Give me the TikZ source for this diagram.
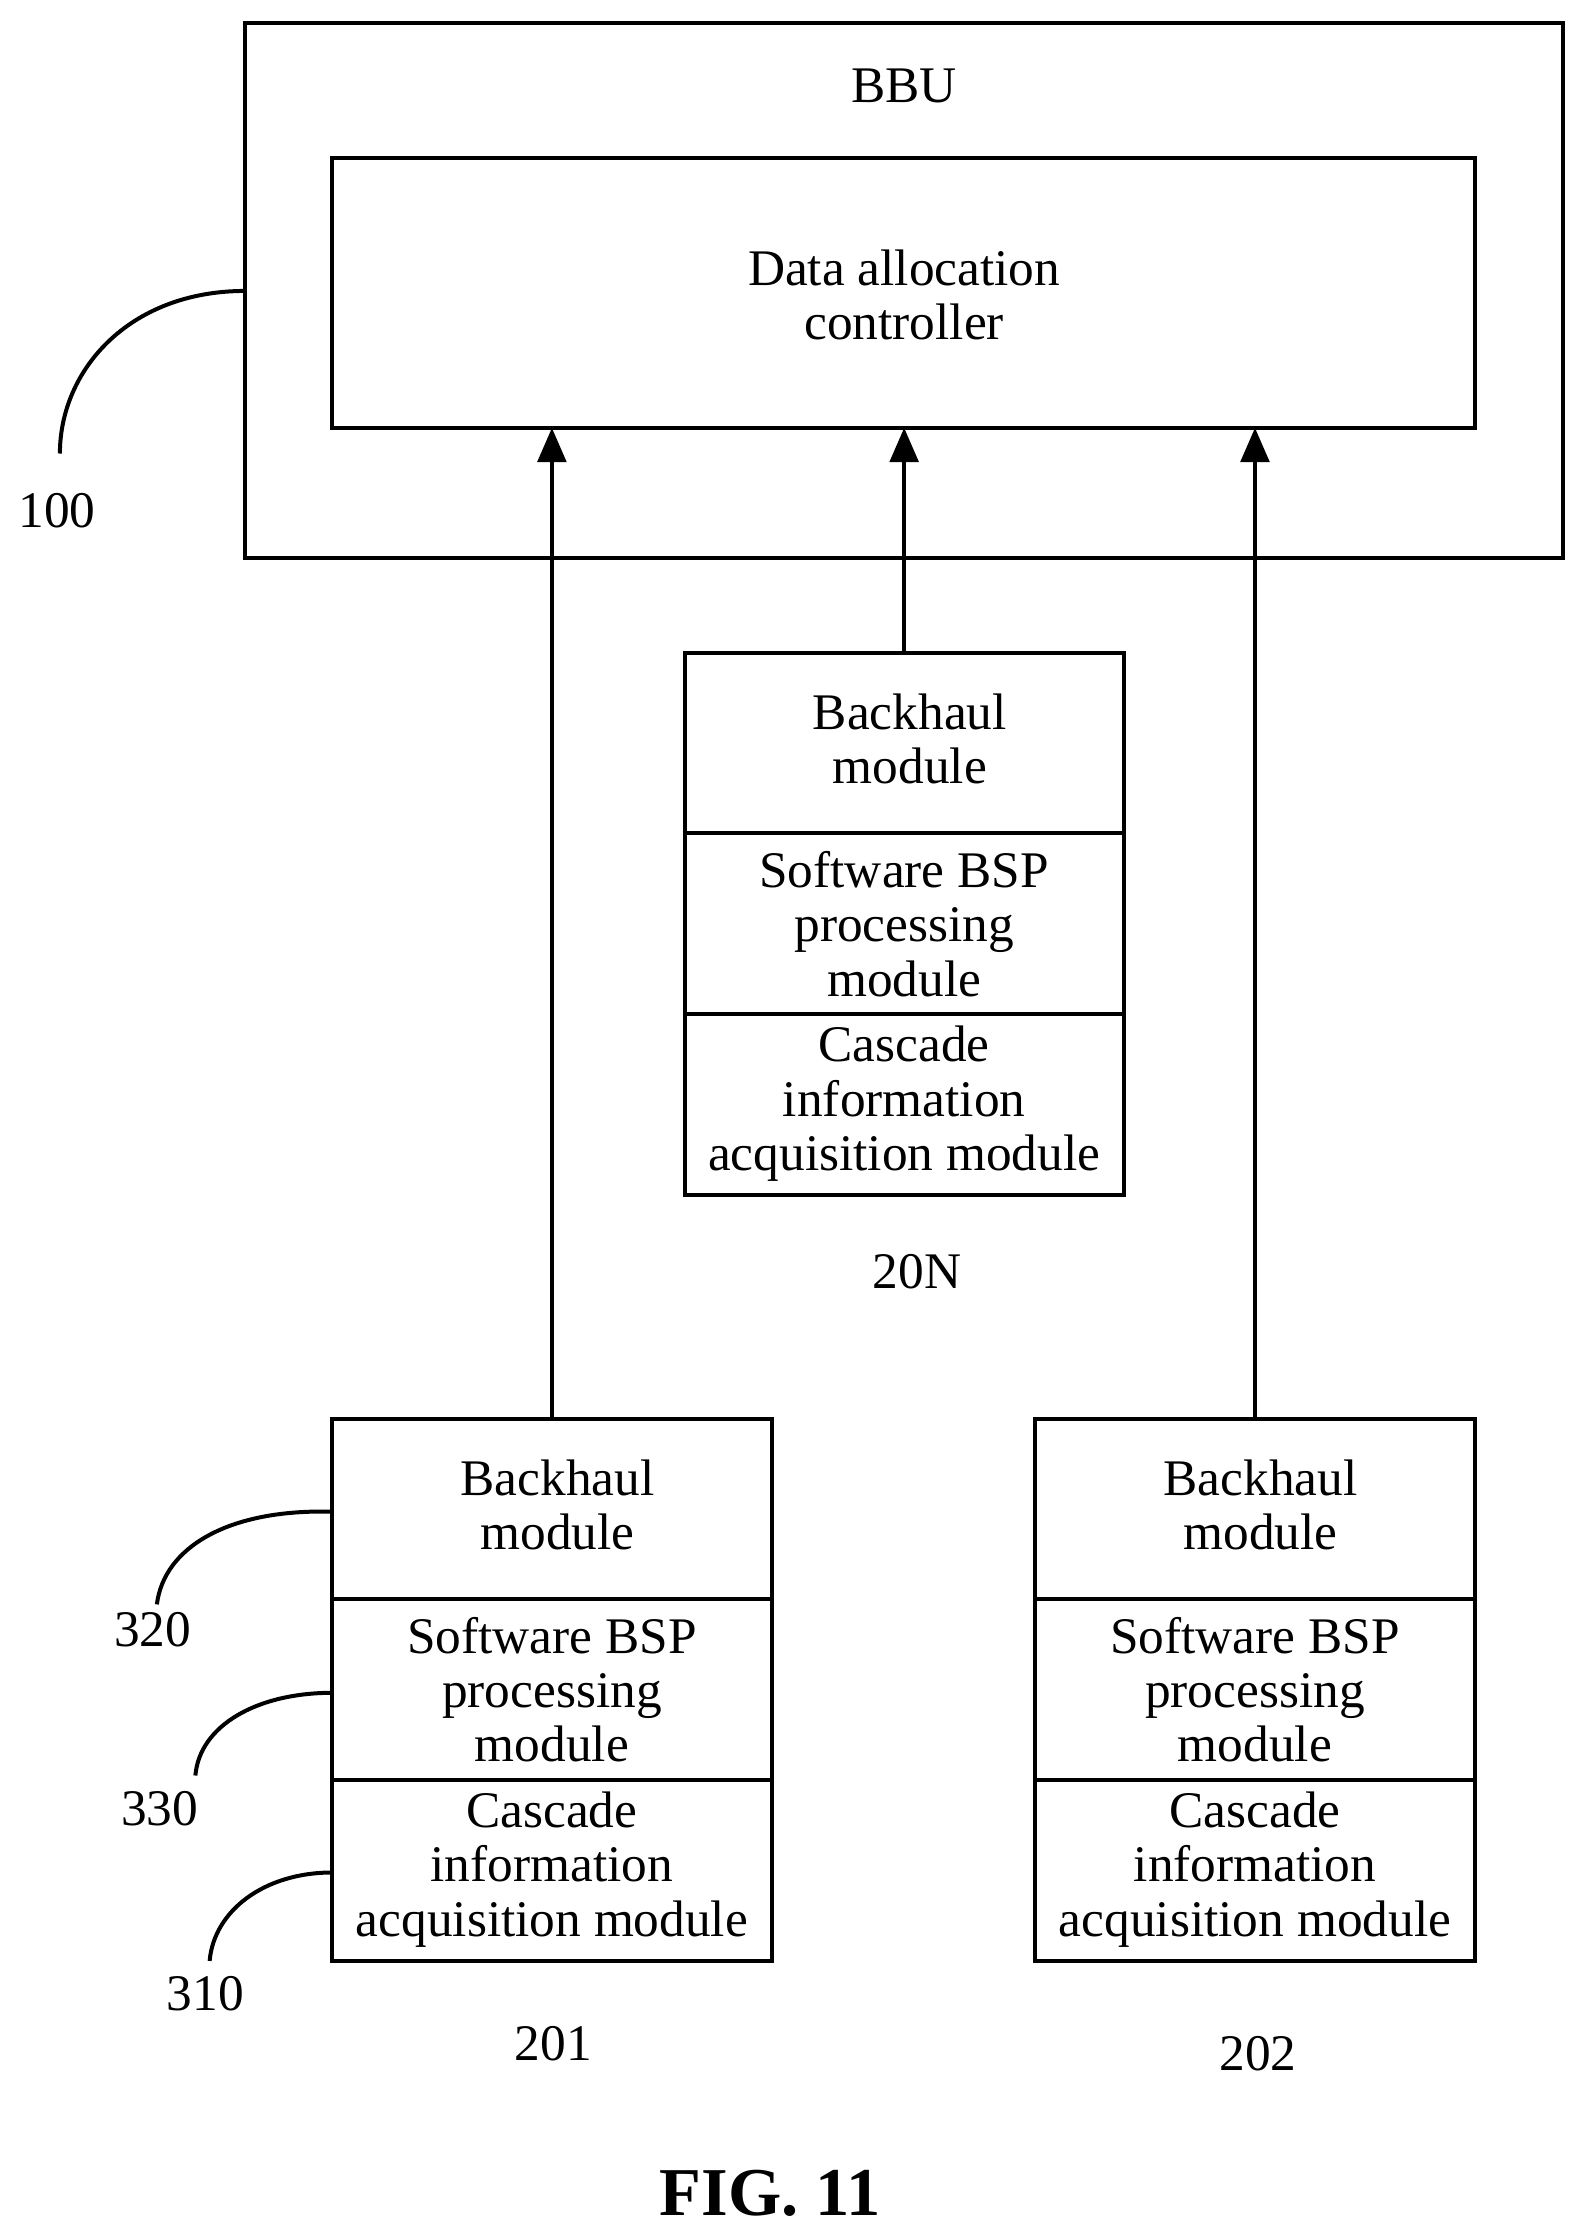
\documentclass[tikz,border=0pt]{standalone}
\usepackage{fontspec}
\setmainfont{Liberation Serif}
\usetikzlibrary{arrows.meta}
\begin{document}
\begin{tikzpicture}[x=0.5pt,y=-0.5pt,
  box/.style={draw,line width=1.4pt},
  txt/.style={font=\fontsize{18}{19}\selectfont,align=center,inner sep=0pt},
  arr/.style={line width=1.4pt,-{Triangle[length=12pt,width=10pt]}},
  lead/.style={line width=1.4pt}]
\useasboundingbox (0,0) rectangle (1110,1563);
\draw[box] (172,16) rectangle (1096,391);
\node[txt] (bbu) at (634,60) {BBU};
\draw[box] (233,111) rectangle (1034,300);
\node[txt] (dac) at (634,207) {Data allocation\\controller};
\coordinate (c1) at (387,300); \coordinate (c2) at (634,300); \coordinate (c3) at (880,300);
% stacks
\foreach \x/\n in {480/m,233/l,726/r}{
}
\newcommand{\stack}[3]{% x, ytop, name
  \draw[box] (#1,#2) rectangle ++(308,380);
  \draw[box] (#1,#2+126) -- ++(308,0);
  \draw[box] (#1,#2+253) -- ++(308,0);
  \node[txt] (#3a) at (#1+158,#2+60) {Backhaul\\module};
  \node[txt] (#3b) at (#1+154,#2+190) {Software BSP\\processing\\module};
  \node[txt] (#3c) at (#1+154,#2+316) {Cascade\\information\\acquisition module};
}
\stack{480}{458}{m}
\stack{233}{995}{l}
\stack{726}{995}{r}
\coordinate (mt) at (634,458); \coordinate (lt) at (387,995); \coordinate (rt) at (880,995);
\draw[arr] (mt) -- (c2);
\draw[arr] (lt) -- (c1);
\draw[arr] (rt) -- (c3);
\node[txt] (n20N) at (643,892) {20N};
\node[txt] (n201) at (388,1433) {201};
\node[txt] (n202) at (882,1440) {202};
\node[txt] (n100) at (40,358) {100};
\node[txt] (n320) at (107,1143) {320};
\node[txt] (n330) at (112,1268) {330};
\node[txt] (n310) at (144,1398) {310};
\draw[lead] (172,204) .. controls (90,204) and (42,260) .. (42,318);
\draw[lead] (233,1060) .. controls (160,1058) and (115,1085) .. (110,1125);
\draw[lead] (233,1187) .. controls (180,1187) and (140,1210) .. (137,1245);
\draw[lead] (233,1313) .. controls (185,1313) and (150,1340) .. (147,1375);
\node[font=\fontsize{24}{26}\selectfont\bfseries] (fig) at (540,1538) {FIG. 11};
\end{tikzpicture}
\end{document}
